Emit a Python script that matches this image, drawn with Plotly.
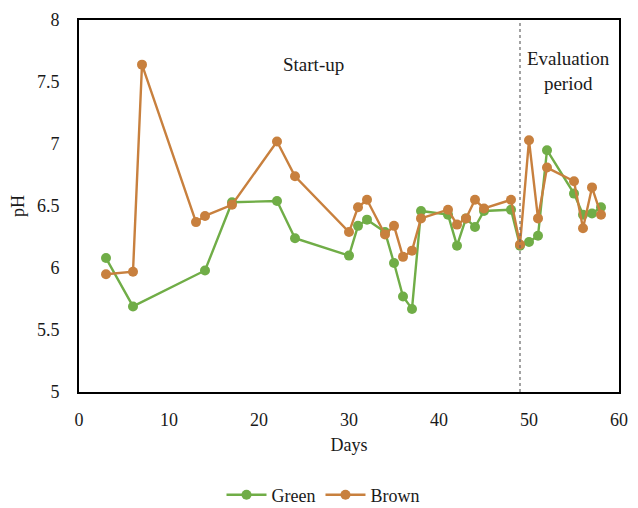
import plotly.graph_objects as go

green_days = [3, 6, 14, 17, 22, 24, 30, 31, 32, 34, 35, 36, 37, 38, 41, 42, 43, 44, 45, 48, 49, 50, 51, 52, 55, 56, 57, 58]
green_ph = [6.08, 5.69, 5.98, 6.53, 6.54, 6.24, 6.10, 6.34, 6.39, 6.29, 6.04, 5.77, 5.67, 6.46, 6.43, 6.18, 6.40, 6.33, 6.46, 6.47, 6.18, 6.21, 6.26, 6.95, 6.60, 6.43, 6.44, 6.49]

brown_days = [3, 6, 7, 13, 14, 17, 22, 24, 30, 31, 32, 34, 35, 36, 37, 38, 41, 42, 43, 44, 45, 48, 49, 50, 51, 52, 55, 56, 57, 58]
brown_ph = [5.95, 5.97, 7.64, 6.37, 6.42, 6.51, 7.02, 6.74, 6.29, 6.49, 6.55, 6.27, 6.34, 6.09, 6.14, 6.40, 6.47, 6.35, 6.40, 6.55, 6.48, 6.55, 6.19, 7.03, 6.40, 6.81, 6.70, 6.32, 6.65, 6.43]

divider_day = 49
x_ticks = [0, 10, 20, 30, 40, 50, 60]
y_ticks = [5, 5.5, 6, 6.5, 7, 7.5, 8]

GREEN = "#70AD47"
BROWN = "#C8803E"
FONT = "Liberation Serif"
TXT = "#1a1a1a"

fig = go.Figure()
fig.add_trace(go.Scatter(x=green_days, y=green_ph, name="Green", mode="lines+markers",
                         line=dict(color=GREEN, width=2.4), marker=dict(color=GREEN, size=10)))
fig.add_trace(go.Scatter(x=brown_days, y=brown_ph, name="Brown", mode="lines+markers",
                         line=dict(color=BROWN, width=2.4), marker=dict(color=BROWN, size=10)))

fig.add_shape(type="line", xref="x", yref="paper", x0=divider_day, x1=divider_day, y0=0, y1=1,
              line=dict(color="#666666", width=1.2, dash="dot"))

fig.add_annotation(x=26, y=7.64, xref="x", yref="y", text="Start-up", showarrow=False,
                   font=dict(family=FONT, size=19, color=TXT))
fig.add_annotation(x=54.4, y=7.59, xref="x", yref="y", text="Evaluation<br>period", showarrow=False,
                   font=dict(family=FONT, size=19, color=TXT))

fig.update_layout(
    width=630, height=500,
    margin=dict(l=71, r=19, t=12, b=116, autoexpand=False),
    paper_bgcolor="white", plot_bgcolor="white",
    font=dict(family=FONT, size=18, color=TXT),
    showlegend=True,
    legend=dict(orientation="h", xref="container", x=0.5, xanchor="center",
                yref="container", y=0.026, yanchor="middle",
                font=dict(family=FONT, size=18, color=TXT), itemwidth=40),
)
fig.update_xaxes(range=[0, 60], tickvals=x_ticks, showgrid=False, zeroline=False,
                 showline=True, linecolor="black", linewidth=1.8, mirror=True,
                 ticks="", ticklabelstandoff=10, tickfont=dict(family=FONT, size=18, color=TXT),
                 title=dict(text="Days", font=dict(family=FONT, size=18, color=TXT), standoff=10))
fig.update_yaxes(range=[5, 8], tickvals=y_ticks, ticktext=[str(v) for v in y_ticks],
                 showgrid=False, zeroline=False,
                 showline=True, linecolor="black", linewidth=1.8, mirror=True,
                 ticks="", ticklabelstandoff=14, tickfont=dict(family=FONT, size=18, color=TXT),
                 title=dict(text="pH", font=dict(family=FONT, size=18, color=TXT), standoff=10))

fig.write_html("out.html")
